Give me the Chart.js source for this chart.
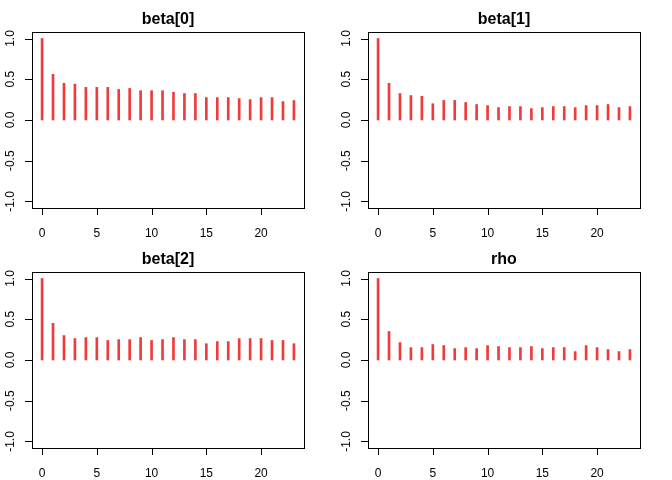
<!DOCTYPE html>
<html>
<head>
<meta charset="utf-8">
<script src="https://cdn.jsdelivr.net/npm/chart.js@4.4.0/dist/chart.umd.min.js"></script>
<style>
  body { margin: 0; background: #fff; }
  .panel { position: absolute; width: 336px; height: 240px; }
</style>
</head>
<body>
<div class="panel" style="left:0;top:0"><canvas id="c0" width="336" height="240"></canvas></div>
<div class="panel" style="left:336px;top:0"><canvas id="c1" width="336" height="240"></canvas></div>
<div class="panel" style="left:0;top:240px"><canvas id="c2" width="336" height="240"></canvas></div>
<div class="panel" style="left:336px;top:240px"><canvas id="c3" width="336" height="240"></canvas></div>
<script>
// autocorrelation by lag
const lags = [0, 1, 2, 3, 4, 5, 6, 7, 8, 9, 10, 11, 12, 13, 14, 15, 16, 17, 18, 19, 20, 21, 22, 23];
const beta0 = [1.0, 0.56, 0.45, 0.44, 0.40, 0.40, 0.40, 0.375, 0.387, 0.36, 0.36, 0.36, 0.34, 0.325, 0.325, 0.275, 0.275, 0.275, 0.263, 0.25, 0.275, 0.275, 0.226, 0.239];
const beta1 = [1.0, 0.45, 0.325, 0.30, 0.29, 0.20, 0.24, 0.24, 0.214, 0.19, 0.177, 0.152, 0.165, 0.165, 0.14, 0.152, 0.165, 0.165, 0.152, 0.177, 0.177, 0.19, 0.152, 0.165];
const beta2 = [1.0, 0.45, 0.30, 0.263, 0.275, 0.275, 0.24, 0.25, 0.25, 0.275, 0.24, 0.25, 0.275, 0.25, 0.25, 0.20, 0.226, 0.226, 0.263, 0.263, 0.263, 0.24, 0.24, 0.20];
const rho = [1.0, 0.35, 0.214, 0.152, 0.152, 0.19, 0.177, 0.14, 0.152, 0.14, 0.177, 0.165, 0.152, 0.152, 0.165, 0.14, 0.152, 0.152, 0.103, 0.177, 0.152, 0.128, 0.103, 0.128];

const titles = ['beta[0]', 'beta[1]', 'beta[2]', 'rho'];
const series = [beta0, beta1, beta2, rho];
const xTicks = [0, 5, 10, 15, 20];
const yTicks = [-1, -0.5, 0, 0.5, 1];
const yTickLabels = ['-1.0', '-0.5', '0.0', '0.5', '1.0'];

// R-style frame, ticks outside the box, rotated y labels
const rFrame = {
  id: 'rFrame',
  afterDraw(chart, args, opts) {
    const ctx = chart.ctx;
    const a = chart.chartArea;
    const xs = chart.scales.x, ys = chart.scales.y;
    ctx.save();
    ctx.strokeStyle = '#000';
    ctx.lineWidth = 1;
    ctx.strokeRect(Math.round(a.left) + 0.5, Math.round(a.top) + 0.5,
      Math.round(a.right - a.left), Math.round(a.bottom - a.top));

    ctx.fillStyle = '#000';
    ctx.font = '12px "Liberation Sans", Arial, sans-serif';
    ctx.beginPath();
    xTicks.forEach(v => {
      const px = Math.round(xs.getPixelForValue(v)) + 0.5;
      ctx.moveTo(px, a.bottom);
      ctx.lineTo(px, a.bottom + 7);
    });
    yTicks.forEach(v => {
      const py = Math.round(ys.getPixelForValue(v)) + 0.5;
      ctx.moveTo(a.left, py);
      ctx.lineTo(a.left - 7, py);
    });
    ctx.stroke();

    ctx.textAlign = 'center';
    ctx.textBaseline = 'alphabetic';
    xTicks.forEach(v => {
      ctx.fillText(String(v), xs.getPixelForValue(v), a.bottom + 29);
    });
    yTicks.forEach((v, i) => {
      ctx.save();
      ctx.translate(a.left - 18, ys.getPixelForValue(v));
      ctx.rotate(-Math.PI / 2);
      ctx.fillText(yTickLabels[i], 0, 0);
      ctx.restore();
    });

    ctx.font = 'bold 16px "Liberation Sans", Arial, sans-serif';
    ctx.fillText(opts.title, (a.left + a.right) / 2, 24);
    ctx.restore();
  }
};

series.forEach((vals, k) => {
  new Chart(document.getElementById('c' + k), {
    type: 'bar',
    data: {
      datasets: [{
        data: vals.map((v, i) => ({ x: lags[i], y: v })),
        backgroundColor: '#EE3B3B',
        borderWidth: 0,
        barThickness: 2,
      }],
    },
    options: {
      responsive: false,
      animation: false,
      layout: { padding: { left: 32, right: 32, top: 32, bottom: 32 } },
      scales: {
        x: { type: 'linear', min: -0.92, max: 23.92, offset: false, display: false },
        y: { min: -1.08, max: 1.08, display: false },
      },
      plugins: {
        legend: { display: false },
        tooltip: { enabled: false },
        rFrame: { title: titles[k] },
      },
    },
    plugins: [rFrame],
  });
});
</script>
</body>
</html>
